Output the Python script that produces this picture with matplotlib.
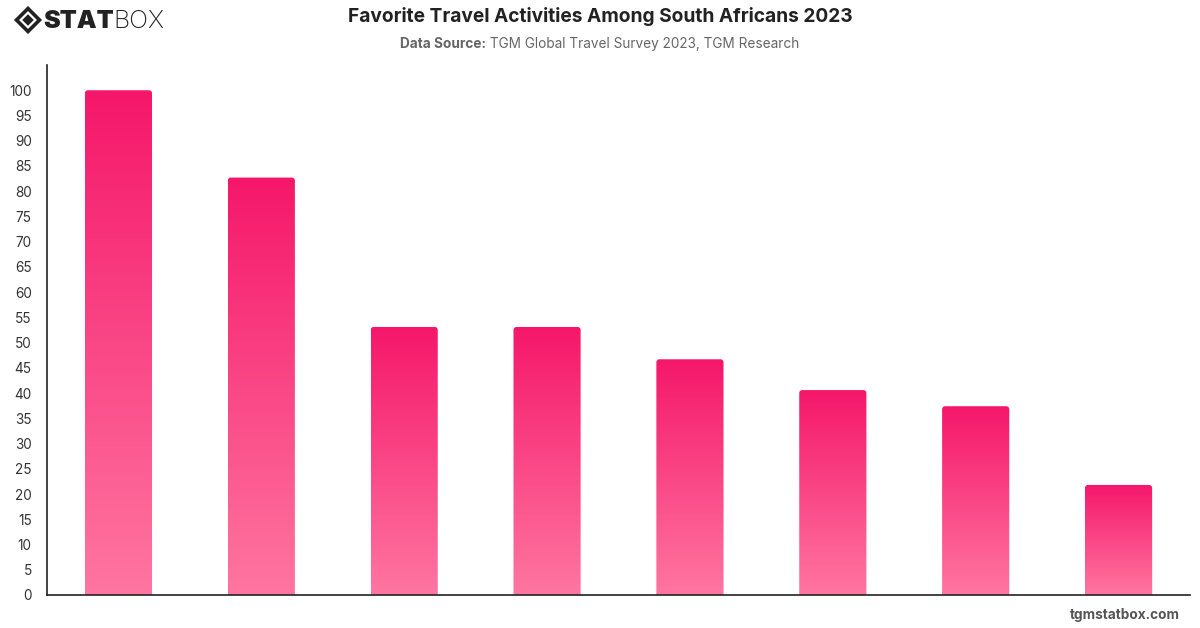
import numpy as np
import matplotlib
matplotlib.use("Agg")
from matplotlib import pyplot as plt
from matplotlib.patches import FancyBboxPatch, Polygon
from matplotlib.colors import LinearSegmentedColormap

# values (no category labels shown)
categories = ["", "", "", "", "", "", "", ""]
values = [100, 82.7, 53.1, 53.1, 46.7, 40.6, 37.4, 21.8]
yticks = list(range(0, 101, 5))

title = "Favorite Travel Activities Among South Africans 2023"
source_bold = "Data Source:"
source_rest = " TGM Global Travel Survey 2023, TGM Research"
footer = "tgmstatbox.com"

plt.rcParams['font.family'] = ['Inter', 'DejaVu Sans']

W, H = 1200, 628
fig = plt.figure(figsize=(W / 100, H / 100), dpi=100)
ax = fig.add_axes([47 / W, 1 - 595 / H, (1190 - 47) / W, (595 - 65) / H])

x = np.arange(len(values))
bar_w = 0.47
ax.set_xlim(-0.5, len(values) - 0.5)
ax.set_ylim(0, 105)

cm = LinearSegmentedColormap.from_list("pink", ["#ff76a1", "#f5176a"])
grad = np.linspace(0, 1, 256).reshape(-1, 1)

# px per data unit, to keep corner rounding circular
px_x = (1190 - 47) / len(values)
px_y = (595 - 65) / 105.0
r_px = 3.0

for xi, v in zip(x, values):
    x0 = xi - bar_w / 2
    patch = FancyBboxPatch((x0, -3), bar_w, v + 3,
                           boxstyle="round,pad=0,rounding_size=%f" % (r_px / px_x),
                           mutation_aspect=px_x / px_y,
                           facecolor="none", edgecolor="none")
    ax.add_patch(patch)
    im = ax.imshow(grad, cmap=cm, aspect="auto", origin="lower",
                   extent=(x0, x0 + bar_w, 0, v), zorder=2)
    im.set_clip_path(patch)

ax.set_xlim(-0.5, len(values) - 0.5)
ax.set_ylim(0, 105)
ax.set_xticks(x)
ax.set_xticklabels(categories)
ax.set_yticks(yticks)
ax.tick_params(axis="both", length=0, labelsize=9.8, labelcolor="#333333")
ax.tick_params(axis="y", pad=11)
for lab in ax.get_yticklabels():
    lab.set_horizontalalignment("right")
ax.spines["top"].set_visible(False)
ax.spines["right"].set_visible(False)
ax.spines["left"].set_color("#222222")
ax.spines["bottom"].set_color("#222222")
ax.spines["left"].set_linewidth(1.2)
ax.spines["bottom"].set_linewidth(1.2)

# titles
fig.text(600 / W, 1 - 17 / H, title, ha="center", va="center",
         fontsize=13.8, fontweight="bold", color="#222222")
t1 = fig.text(0, 1 - 44 / H, source_bold, ha="left", va="center",
              fontsize=9.8, fontweight="bold", color="#666666")
t2 = fig.text(0, 1 - 44 / H, source_rest, ha="left", va="center",
              fontsize=9.8, color="#666666")
fig.canvas.draw()
r = fig.canvas.get_renderer()
w1 = t1.get_window_extent(r).width
w2 = t2.get_window_extent(r).width
start = 600 - (w1 + w2) / 2
t1.set_x(start / W)
t2.set_x((start + w1) / W)

fig.text(1180 / W, 1 - 615 / H, footer, ha="right", va="center",
         fontsize=9.8, fontweight="bold", color="#555555")

# logo
cx, cy = 28 / W, 1 - 20 / H
sx, sy = 11.5 / W, 11.5 / H
outer = Polygon([(cx - sx, cy), (cx, cy + sy), (cx + sx, cy), (cx, cy - sy)],
                closed=True, fill=False, edgecolor="#222222", linewidth=2.6,
                transform=fig.transFigure)
inner = Polygon([(cx - sx * 0.5, cy), (cx, cy + sy * 0.5), (cx + sx * 0.5, cy), (cx, cy - sy * 0.5)],
                closed=True, facecolor="#222222", edgecolor="none",
                transform=fig.transFigure)
fig.add_artist(outer)
fig.add_artist(inner)
ls = fig.text(43 / W, 1 - 21 / H, "STAT", ha="left", va="center",
              fontsize=18, fontweight="black", color="#222222")
fig.canvas.draw()
lw = ls.get_window_extent(r).width
fig.text((43 + lw) / W, 1 - 21 / H, "BOX", ha="left", va="center",
         fontsize=18, fontweight="light", color="#222222")

fig.savefig("out.png", dpi=100)
